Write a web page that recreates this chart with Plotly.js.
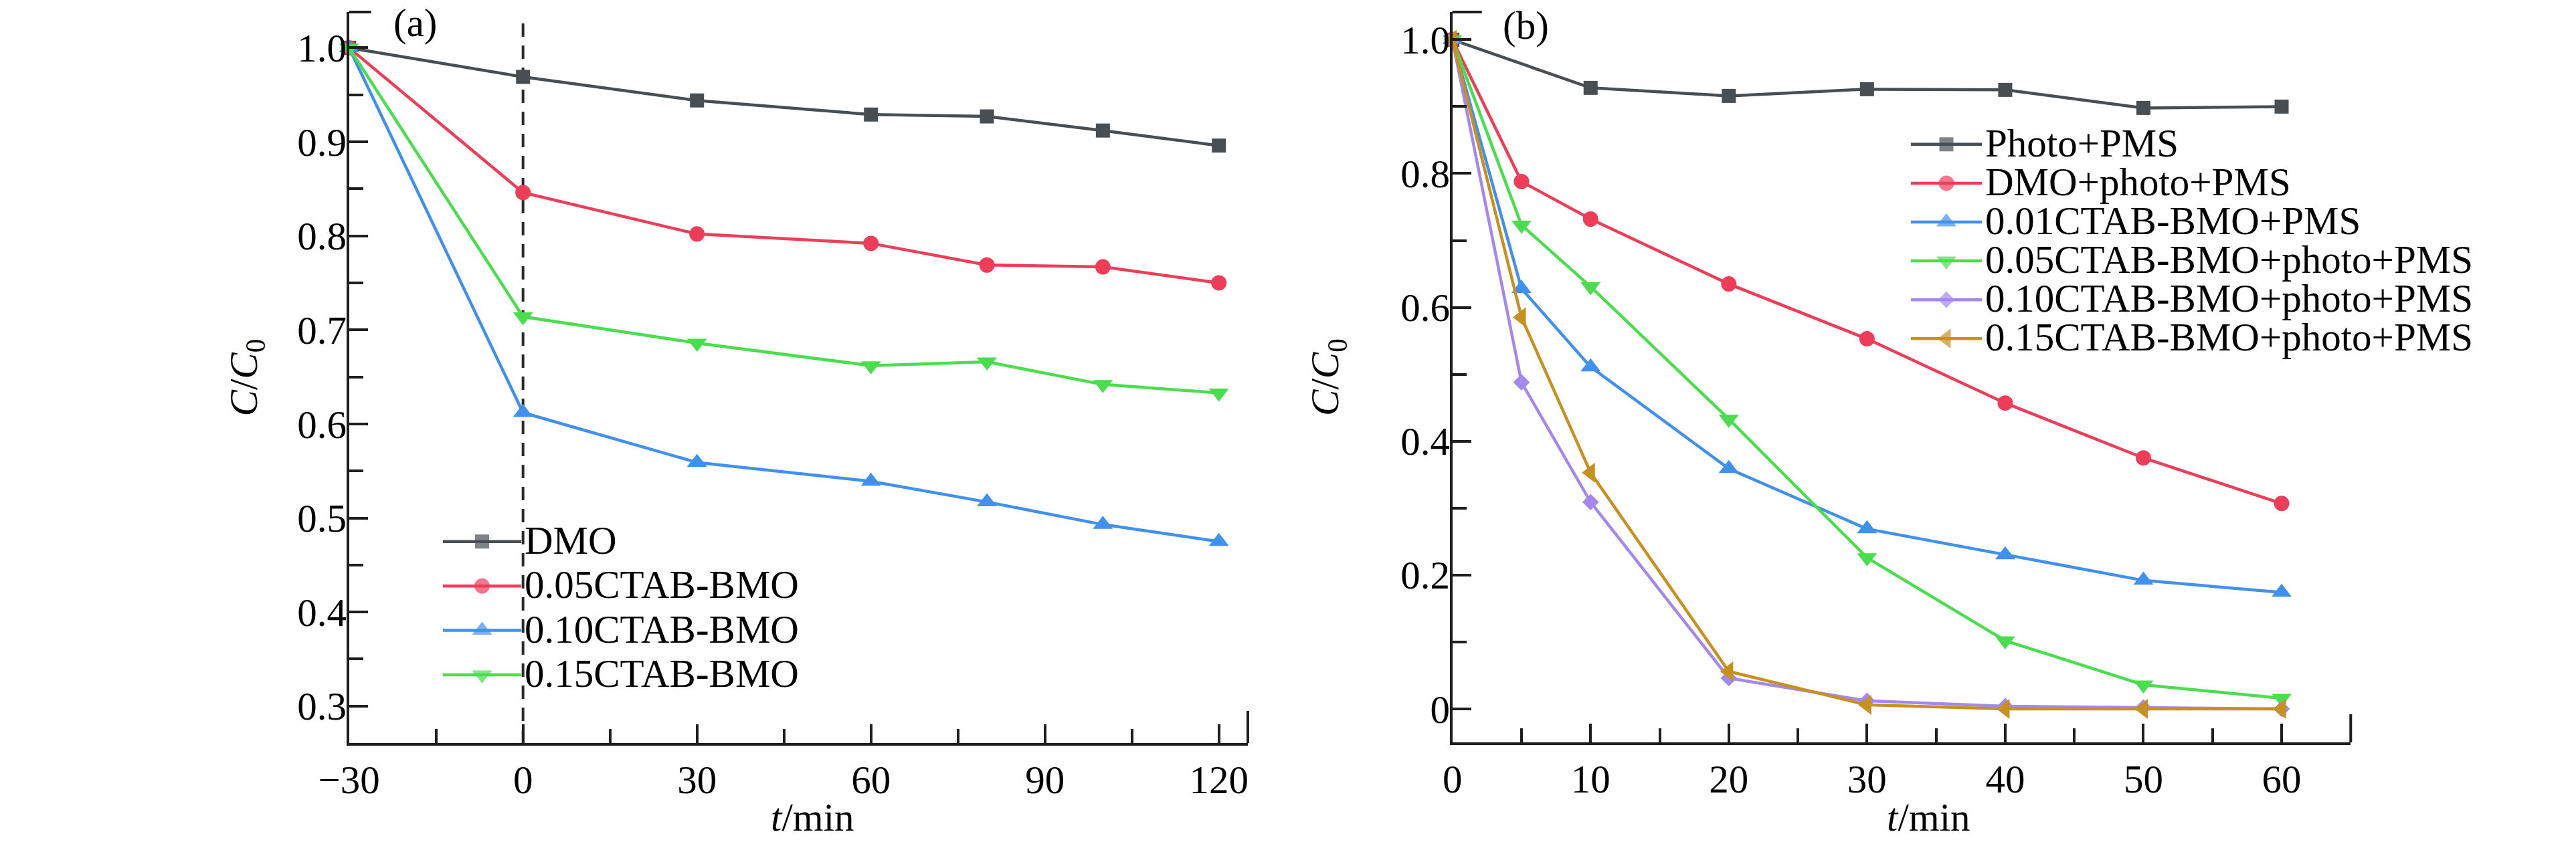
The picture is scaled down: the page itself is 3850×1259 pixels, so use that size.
<!DOCTYPE html>
<html>
<head>
<meta charset="utf-8">
<script src="https://cdn.plot.ly/plotly-3.0.1.min.js"></script>
<style>html,body{margin:0;padding:0;background:#fff;}#chart{width:3850px;height:1259px;}</style>
</head>
<body>
<div id="chart"></div>
<script>
// ---------- Data: panel (a) ----------
const timeA = [-30, 0, 30, 60, 80, 100, 120];
const namesA = ["DMO", "0.05CTAB-BMO", "0.10CTAB-BMO", "0.15CTAB-BMO"];
const dmoA    = [1.000, 0.969, 0.944, 0.929, 0.927, 0.912, 0.896];
const ctab05A = [1.000, 0.846, 0.802, 0.792, 0.769, 0.767, 0.750];
const ctab10A = [1.000, 0.612, 0.559, 0.539, 0.517, 0.493, 0.475];
const ctab15A = [1.000, 0.714, 0.686, 0.662, 0.666, 0.642, 0.633];

// ---------- Data: panel (b) ----------
const timeB0 = [0, 10, 20, 30, 40, 50, 60];          // Photo+PMS
const timeB  = [0, 5, 10, 20, 30, 40, 50, 60];
const namesB = ["Photo+PMS", "DMO+photo+PMS", "0.01CTAB-BMO+PMS",
                "0.05CTAB-BMO+photo+PMS", "0.10CTAB-BMO+photo+PMS", "0.15CTAB-BMO+photo+PMS"];
const photoPMS   = [1.000, 0.928, 0.916, 0.926, 0.925, 0.898, 0.900];
const dmoPhoto   = [1.000, 0.788, 0.732, 0.635, 0.553, 0.457, 0.375, 0.307];
const ctab01PMS  = [1.000, 0.628, 0.511, 0.359, 0.269, 0.230, 0.192, 0.174];
const ctab05B    = [1.000, 0.723, 0.631, 0.433, 0.226, 0.102, 0.036, 0.016];
const ctab10B    = [1.000, 0.488, 0.309, 0.046, 0.012, 0.004, 0.002, 0.000];
const ctab15B    = [1.000, 0.585, 0.353, 0.056, 0.006, 0.000, 0.000, 0.000];

// tick labels
const yTicksB = [0, 0.2, 0.4, 0.6, 0.8, 1.0];
const yTickTextB = ["0", "0.2", "0.4", "0.6", "0.8", "1.0"];

// ---------- Styles ----------
const FONT = "Liberation Serif, Times New Roman, serif";
const FS = 59;
const INK = "#1e1e1e";
const colGray = "#474f54", colRed = "#ee3d58", colBlue = "#4090ee",
      colGreen = "#4ade4f", colPurple = "#a587f0", colGold = "#c8901f";

const stylesA = [
  {color: colGray,  symbol: "square",        size: 21},
  {color: colRed,   symbol: "circle",        size: 23},
  {color: colBlue,  symbol: "triangle-up",   size: 26},
  {color: colGreen, symbol: "triangle-down", size: 26}
];
const stylesB = [
  {color: colGray,   symbol: "square",        size: 21},
  {color: colRed,    symbol: "circle",        size: 23},
  {color: colBlue,   symbol: "triangle-up",   size: 26},
  {color: colGreen,  symbol: "triangle-down", size: 26},
  {color: colPurple, symbol: "diamond",       size: 19},
  {color: colGold,   symbol: "triangle-left", size: 26}
];
const seriesA = [dmoA, ctab05A, ctab10A, ctab15A];
const seriesB = [photoPMS, dmoPhoto, ctab01PMS, ctab05B, ctab10B, ctab15B];
const xB = [timeB0, timeB, timeB, timeB, timeB, timeB];

function mk(x, y, name, st, xa, ya) {
  return {x: x, y: y, name: name, type: "scatter", mode: "lines+markers",
          xaxis: xa, yaxis: ya, showlegend: false, cliponaxis: false,
          line: {color: st.color, width: 4.5},
          marker: {color: st.color, symbol: st.symbol, size: st.size, line: {width: 0}}};
}

const traces = [];
seriesA.forEach((s, i) => traces.push(mk(timeA, s, namesA[i], stylesA[i], "x", "y")));
seriesB.forEach((s, i) => traces.push(mk(xB[i], s, namesB[i], stylesB[i], "x2", "y2")));

// ---------- Hand-made legends on helper axes ----------
const legX = [0, 0.5, 1];
const annotations = [];
function legend(names, styles, xa, ya, xref, yref) {
  names.forEach((n, i) => {
    const st = styles[i];
    traces.push({x: legX, y: legX.map(() => i), type: "scatter", mode: "lines+markers",
      xaxis: xa, yaxis: ya, showlegend: false, hoverinfo: "skip", cliponaxis: false,
      line: {color: st.color, width: 4.5},
      marker: {color: st.color, symbol: st.symbol, size: [0, st.size, 0], line: {width: 0}}});
    annotations.push({xref: xref, yref: yref, x: 1, y: i, xanchor: "left", yanchor: "middle",
      xshift: 3, yshift: 2, showarrow: false, text: n, font: {family: FONT, size: FS, color: "#000"}});
  });
}
legend(namesA, stylesA, "x3", "y3", "x3", "y3");
legend(namesB, stylesB, "x4", "y4", "x4", "y4");

// panel labels & x titles
annotations.push({xref: "paper", yref: "paper", x: 620/3850, y: 1 - 34/1259, xanchor: "center", yanchor: "middle",
  showarrow: false, text: "(a)", font: {family: FONT, size: FS, color: "#000"}});
annotations.push({xref: "paper", yref: "paper", x: 2280/3850, y: 1 - 38/1259, xanchor: "center", yanchor: "middle",
  showarrow: false, text: "(b)", font: {family: FONT, size: FS, color: "#000"}});
annotations.push({xref: "paper", yref: "paper", x: 1214/3850, y: 1 - 1222/1259, xanchor: "center", yanchor: "middle",
  showarrow: false, text: "<i>t</i>/min", font: {family: FONT, size: FS, color: "#000"}});
annotations.push({xref: "paper", yref: "paper", x: 2882/3850, y: 1 - 1222/1259, xanchor: "center", yanchor: "middle",
  showarrow: false, text: "<i>t</i>/min", font: {family: FONT, size: FS, color: "#000"}});

function axisBase(extra) {
  return Object.assign({
    showline: true, linecolor: INK, linewidth: 4, mirror: false,
    ticks: "inside", ticklen: 28, tickwidth: 4, tickcolor: INK,
    showgrid: false, zeroline: false, automargin: false, fixedrange: true,
    tickfont: {family: FONT, size: FS, color: "#000"}
  }, extra);
}
const hidden = {visible: false, fixedrange: true, showgrid: false, zeroline: false};

const layout = {
  width: 3850, height: 1259,
  margin: {l: 0, r: 0, t: 0, b: 0},
  paper_bgcolor: "#fff", plot_bgcolor: "rgba(0,0,0,0)",
  showlegend: false,
  xaxis: axisBase({domain: [521.7/3850, 1865/3850], range: [-30, 125], anchor: "y",
    tickmode: "linear", tick0: -30, dtick: 30,
    minor: {ticks: "inside", ticklen: 21, tickwidth: 4, tickcolor: INK, tick0: -30, dtick: 15}}),
  yaxis: axisBase({domain: [1 - 1111/1259, 1 - 18/1259], range: [0.2607, 1.038], anchor: "x",
    tickmode: "linear", tick0: 0.3, dtick: 0.1, tickformat: ".1f", ticklabelstandoff: -12,
    minor: {ticks: "inside", ticklen: 21, tickwidth: 4, tickcolor: INK, tick0: 0.3, dtick: 0.05},
    title: {text: "<i>C</i>/<i>C</i><sub>0</sub>", font: {family: FONT, size: FS, color: "#000"}, standoff: 42}}),
  xaxis2: axisBase({domain: [2170.7/3850, 3513.3/3850], range: [0, 65], anchor: "y2",
    tickmode: "linear", tick0: 0, dtick: 10,
    minor: {ticks: "inside", ticklen: 21, tickwidth: 4, tickcolor: INK, tick0: 0, dtick: 5}}),
  yaxis2: axisBase({domain: [1 - 1110/1259, 1 - 18/1259], range: [-0.05, 1.0413], anchor: "x2",
    tickmode: "array", tickvals: yTicksB, ticktext: yTickTextB, ticklabelstandoff: -12,
    minor: {ticks: "inside", ticklen: 21, tickwidth: 4, tickcolor: INK, tick0: 0, dtick: 0.1},
    title: {text: "<i>C</i>/<i>C</i><sub>0</sub>", font: {family: FONT, size: FS, color: "#000"}, standoff: 74}}),
  xaxis3: Object.assign({domain: [661.7/3850, 779.3/3850], range: [0, 1], anchor: "y3"}, hidden),
  yaxis3: Object.assign({domain: [1 - 1042.2/1259, 1 - 776.5/1259], range: [3.5, -0.5], anchor: "x3"}, hidden),
  xaxis4: Object.assign({domain: [2856/3850, 2962/3850], range: [0, 1], anchor: "y4"}, hidden),
  yaxis4: Object.assign({domain: [1 - 535.35/1259, 1 - 186.75/1259], range: [5.5, -0.5], anchor: "x4"}, hidden),
  annotations: annotations,
  shapes: [
    // dashed marker of light-on time (t = 0) in panel (a)
    {type: "line", xref: "x", yref: "y domain", x0: 0, x1: 0, y0: 0, y1: 0.987,
     line: {color: "#2a2a2a", width: 4, dash: "20px,13px"}, layer: "below"},
    // axis end caps
    {type: "line", xref: "x domain", yref: "y domain", x0: 0, x1: 0.0246, y0: 1, y1: 1, line: {color: INK, width: 4}},
    {type: "line", xref: "x domain", yref: "y domain", x0: 1, x1: 1, y0: 0, y1: 0.0439, line: {color: INK, width: 4}},
    {type: "line", xref: "x2 domain", yref: "y2 domain", x0: 0, x1: 0.0328, y0: 1, y1: 1, line: {color: INK, width: 4}},
    {type: "line", xref: "x2 domain", yref: "y2 domain", x0: 1, x1: 1, y0: 0, y1: 0.0385, line: {color: INK, width: 4}}
  ]
};

Plotly.newPlot("chart", traces, layout, {staticPlot: true, displayModeBar: false});
</script>
</body>
</html>
